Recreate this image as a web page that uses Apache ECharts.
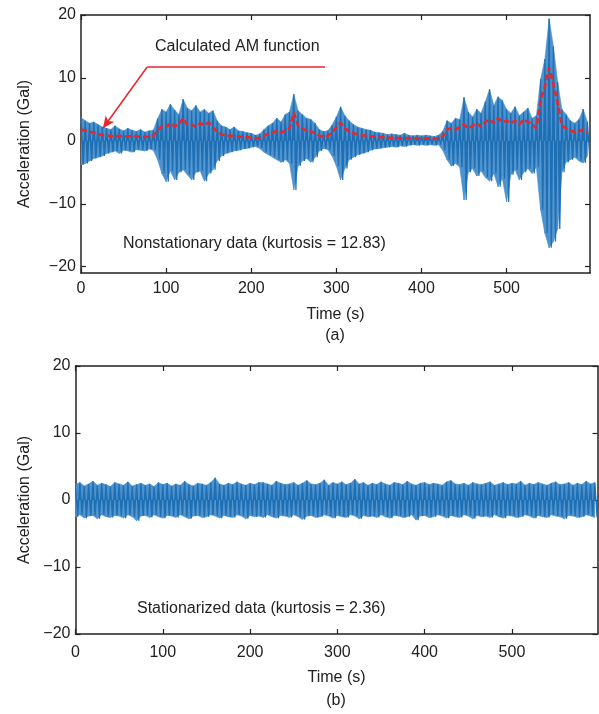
<!DOCTYPE html>
<html>
<head>
<meta charset="utf-8">
<script src="https://cdn.jsdelivr.net/npm/echarts@6/dist/echarts.min.js"></script>
<style>
  html, body { margin: 0; padding: 0; background: #fff; }
  #chart { width: 599px; height: 714px; }
</style>
</head>
<body>
<div id="chart"></div>
<script>
// sample times (s), one every 5 s
const times = [];
for (let i = 0; i < 120; i++) times.push(i * 5);

// (a) nonstationary record: upper / lower peaks per 5 s window
const upperA = [
  3.7, 3.2, 2.8, 3.0, 2.6, 2.2, 2.0, 1.8, 2.4, 1.9,
  1.6, 2.0, 1.7, 1.5, 1.8, 1.4, 1.6, 1.7, 3.5, 5.0,
  4.6, 5.8, 4.9, 4.2, 6.6, 5.2, 4.8, 5.6, 4.6, 5.0,
  4.4, 4.8, 3.2, 2.4, 2.2, 1.8, 2.2, 1.6, 1.5, 1.3,
  1.2, 0.9, 1.1, 1.8, 2.4, 2.8, 3.6, 3.0, 4.2, 4.6,
  7.4, 4.8, 4.2, 3.6, 3.4, 2.8, 1.8, 1.5, 1.6, 2.5,
  3.8, 5.4, 4.0, 3.2, 2.6, 2.2, 2.0, 1.8, 1.7, 1.4,
  1.3, 1.2, 1.0, 1.1, 1.0, 0.9, 1.2, 0.9, 0.8, 0.9,
  0.8, 0.9, 0.8, 0.7, 0.9, 1.5, 3.2, 2.8, 3.6, 3.4,
  6.9, 4.6, 3.8, 5.0, 4.4, 6.2, 8.2, 5.6, 7.0, 6.4,
  5.0, 4.4, 5.4, 4.0, 4.6, 5.2, 3.6, 4.0, 9.8, 13.0,
  19.4, 15.0, 9.3, 5.0, 4.2, 3.2, 2.8, 3.4, 5.0, 3.0
];
const lowerA = [
  -3.8, -3.6, -3.2, -2.8, -2.6, -2.4, -2.0, -1.8, -1.6, -2.0,
  -1.5, -1.6, -1.8, -1.4, -1.5, -1.6, -1.3, -1.5, -3.0, -5.2,
  -6.5, -4.8, -6.2, -5.0, -4.6, -5.4, -6.2, -5.0, -4.8, -6.4,
  -5.2, -4.6, -3.2, -2.4, -2.0, -1.8, -1.6, -1.5, -1.3, -1.2,
  -1.0, -0.9, -1.2, -1.8, -2.2, -2.6, -3.0, -3.4, -3.0, -3.6,
  -7.8, -4.0, -3.2, -2.8, -3.4, -2.6, -1.6, -1.2, -1.4, -2.4,
  -4.0, -6.2, -4.4, -3.0, -2.6, -2.2, -2.0, -1.8, -1.5, -1.3,
  -1.2, -1.1, -1.0, -0.9, -1.0, -0.8, -0.9, -0.7, -0.6, -0.7,
  -0.6, -0.7, -0.6, -0.7, -0.6, -1.5, -3.0, -4.0, -3.6, -4.2,
  -9.4, -5.0, -4.4, -5.6, -4.8, -5.8, -6.4, -5.2, -7.3, -6.0,
  -9.7, -5.4, -4.6, -6.2, -5.0, -4.4, -5.2, -4.2, -11.0, -14.7,
  -17.0, -16.0, -14.0, -5.0, -3.4, -3.0, -2.6, -3.2, -3.5, -2.4
];
// calculated AM function
const amA = [
  1.8, 1.6, 1.4, 1.3, 1.1, 0.9, 0.8, 0.8, 0.7, 0.8,
  0.7, 0.7, 0.8, 0.7, 0.7, 0.6, 0.7, 0.8, 1.6, 2.4,
  2.2, 2.8, 2.3, 2.6, 3.6, 2.5, 2.6, 2.2, 2.8, 2.5,
  2.9, 2.2, 1.4, 1.0, 0.9, 0.8, 0.8, 0.7, 0.6, 0.6,
  0.5, 0.4, 0.5, 0.8, 1.1, 1.3, 1.6, 1.3, 1.6, 2.0,
  4.5, 2.4, 2.0, 1.6, 1.5, 1.3, 0.8, 0.6, 0.8, 1.3,
  2.2, 2.9, 2.0, 1.5, 1.2, 1.0, 0.9, 0.8, 0.7, 0.7,
  0.6, 0.6, 0.5, 0.5, 0.5, 0.4, 0.5, 0.4, 0.4, 0.4,
  0.4, 0.4, 0.4, 0.3, 0.4, 0.7, 1.8, 2.0, 1.8, 2.2,
  2.6, 2.0, 2.4, 2.8, 2.2, 3.0, 3.4, 2.8, 3.6, 3.0,
  3.2, 2.8, 3.2, 2.6, 3.4, 3.0, 2.6, 2.0, 6.5, 8.6,
  11.6, 9.0, 6.0, 2.4, 2.0, 1.6, 1.4, 1.5, 1.8, 1.4
];

// (b) stationarized record
const upperB = [
  2.3, 2.6, 2.1, 2.4, 2.8, 2.2, 2.5, 2.3, 2.0, 2.6,
  2.4, 2.2, 2.7, 2.1, 2.3, 2.5, 2.2, 2.4, 2.0, 2.6,
  2.3, 2.5, 2.1, 2.4, 2.2, 2.8, 2.3, 2.1, 2.5, 2.4,
  2.2, 2.6, 3.3, 2.4, 2.2, 2.5, 2.3, 2.7, 2.4, 2.2,
  2.5, 2.3, 2.6, 2.6, 2.4, 2.2, 2.8, 2.5, 2.3, 2.4,
  2.6, 2.2, 2.5, 2.9, 2.4, 2.3, 2.5, 3.0, 2.2, 2.6,
  2.4, 2.7, 2.3, 2.5, 3.1, 2.4, 2.6, 2.2, 2.5, 2.3,
  2.7, 2.4, 2.2, 2.6, 2.5, 2.3, 2.8, 2.4, 2.2, 2.5,
  2.6, 2.3, 2.5, 2.4, 2.2, 2.7, 2.9, 2.4, 2.3, 2.5,
  2.2, 2.6, 2.4, 2.3, 2.5, 2.7, 2.2, 2.4, 2.6, 2.3,
  2.5, 2.4, 2.8, 2.2, 2.5, 2.3, 2.6, 2.4, 2.2, 2.5,
  2.7, 2.3, 2.4, 2.6, 2.2, 2.5, 2.3, 2.8, 2.4, 2.6
];
const lowerB = [
  -2.5, -2.2, -2.7, -2.4, -2.3, -2.8, -2.2, -2.5, -2.6, -2.3,
  -2.4, -2.7, -2.2, -2.5, -3.1, -2.4, -2.3, -2.6, -2.2, -2.5,
  -2.7, -2.3, -2.4, -2.6, -2.2, -2.5, -2.8, -2.4, -2.3, -2.6,
  -2.5, -2.2, -2.4, -2.7, -2.3, -2.5, -2.6, -2.2, -2.4, -2.8,
  -2.3, -2.5, -2.4, -2.6, -2.2, -2.5, -2.7, -2.3, -2.4, -2.6,
  -2.2, -2.5, -2.9, -2.4, -2.3, -2.6, -2.5, -2.2, -2.4, -2.7,
  -2.3, -2.5, -2.6, -2.2, -2.4, -2.8, -2.3, -2.5, -2.4, -2.6,
  -2.2, -2.5, -2.7, -2.3, -2.4, -2.6, -2.5, -2.2, -3.0, -2.4,
  -2.3, -2.6, -2.5, -2.2, -2.4, -2.7, -2.3, -2.5, -2.6, -2.2,
  -2.4, -2.8, -2.3, -2.5, -2.4, -2.6, -2.2, -2.5, -2.7, -2.3,
  -2.4, -2.6, -2.5, -2.2, -2.4, -2.7, -2.3, -2.5, -2.6, -2.2,
  -2.4, -2.5, -2.8, -2.3, -2.4, -2.6, -2.5, -2.2, -2.4, -2.6
];

const xTicks = [0, 100, 200, 300, 400, 500];
const yTicks = [-20, -10, 0, 10, 20];

// leader of the "Calculated AM function" label (data coords)
const leaderStart = [286.7, 11.7];
const leaderBend = [77.5, 11.7];
const leaderTip = [25.8, 2.0];

const FONT = '"Liberation Sans", Arial, sans-serif';
const INK = '#222';
const BLUE = '#1f6fb4';
const PALE = '#4d92cd';
const RED = '#e8262b';
const minus = v => String(v).replace('-', '\u2212');

// one slab of the signal envelope per pair of neighbouring samples
function slabs(up, lo) {
  const rows = [];
  for (let i = 0; i < times.length - 1; i++) {
    rows.push([times[i], up[i], lo[i], times[i + 1], up[i + 1], lo[i + 1]]);
  }
  return rows;
}

function renderSlab(params, api) {
  const p = [
    api.coord([api.value(0), api.value(1)]),
    api.coord([api.value(3), api.value(4)]),
    api.coord([api.value(3), api.value(5)]),
    api.coord([api.value(0), api.value(2)])
  ];
  return {
    type: 'polygon',
    shape: { points: p },
    style: { fill: PALE, stroke: PALE, lineWidth: 0.6 }
  };
}

// peaks alternate up/down, half a window apart
function trace(up, lo) {
  const pts = [];
  for (let i = 0; i < times.length; i++) {
    pts.push([times[i], up[i]]);
    pts.push([times[i] + 2.5, lo[i]]);
  }
  return pts;
}

function signalSeries(xi, yi, up, lo) {
  return [{
    type: 'custom', xAxisIndex: xi, yAxisIndex: yi,
    renderItem: renderSlab,
    data: slabs(up, lo),
    encode: { x: [0, 3], y: [1, 2, 4, 5] },
    clip: true, silent: true
  }, {
    type: 'line', xAxisIndex: xi, yAxisIndex: yi,
    data: trace(up, lo),
    symbol: 'none', silent: true,
    lineStyle: { color: BLUE, width: 1.2 },
    areaStyle: { color: BLUE, opacity: 1, origin: 0 }
  }];
}

function xAxes(grid, labelMargin, nameGap) {
  return [{
    type: 'value', gridIndex: grid, min: 0, max: 598,
    name: 'Time (s)', nameLocation: 'middle', nameGap: nameGap,
    nameTextStyle: { fontFamily: FONT, fontSize: 16, color: INK },
    axisLine: { onZero: false, lineStyle: { color: INK, width: 1.5 } },
    axisTick: { inside: true, length: 5, customValues: xTicks, lineStyle: { color: INK, width: 1.2 } },
    axisLabel: { margin: labelMargin, customValues: xTicks, fontFamily: FONT, fontSize: 16, color: INK },
    splitLine: { show: false }
  }, {
    type: 'value', gridIndex: grid, position: 'top', min: 0, max: 598,
    axisLine: { onZero: false, lineStyle: { color: INK, width: 1.5 } },
    axisTick: { inside: true, length: 5, customValues: xTicks, lineStyle: { color: INK, width: 1.2 } },
    axisLabel: { show: false },
    splitLine: { show: false }
  }];
}

function yAxes(grid, min, max, nameGap) {
  return [{
    type: 'value', gridIndex: grid, min: min, max: max,
    name: 'Acceleration (Gal)', nameLocation: 'middle', nameGap: nameGap,
    nameTextStyle: { fontFamily: FONT, fontSize: 16, color: INK },
    axisLine: { onZero: false, lineStyle: { color: INK, width: 1.5 } },
    axisTick: { inside: true, length: 5, customValues: yTicks, lineStyle: { color: INK, width: 1.2 } },
    axisLabel: { margin: 5, customValues: yTicks, fontFamily: FONT, fontSize: 16, color: INK, formatter: minus },
    splitLine: { show: false }
  }, {
    type: 'value', gridIndex: grid, position: 'right', min: min, max: max,
    axisLine: { onZero: false, lineStyle: { color: INK, width: 1.5 } },
    axisTick: { inside: true, length: 5, customValues: yTicks, lineStyle: { color: INK, width: 1.2 } },
    axisLabel: { show: false },
    splitLine: { show: false }
  }];
}

const chart = echarts.init(document.getElementById('chart'));

const textStyle = { fontFamily: FONT, fontSize: 16, fill: INK, textVerticalAlign: 'middle' };

chart.setOption({
  animation: false,
  backgroundColor: '#fff',
  grid: [
    { left: 81, right: 9, top: 15, height: 258, outerBoundsMode: 'none' },
    { left: 75.5, right: 1.5, top: 366, height: 268, outerBoundsMode: 'none' }
  ],
  xAxis: [].concat(xAxes(0, 8, 34), xAxes(1, 11, 36)),
  yAxis: [].concat(yAxes(0, -21, 20, 48), yAxes(1, -20, 20, 42)),
  series: [].concat(
    signalSeries(0, 0, upperA, lowerA),
    [{
      type: 'line', xAxisIndex: 0, yAxisIndex: 0,
      data: times.map((t, i) => [t, amA[i]]),
      symbol: 'none', silent: true,
      lineStyle: { color: RED, width: 2.6, type: [6, 3] },
      markLine: {
        silent: true,
        symbol: ['none', 'arrow'],
        symbolSize: [8, 12],
        label: { show: false },
        lineStyle: { color: RED, width: 1.5, type: 'solid' },
        data: [
          [{ coord: leaderStart, symbol: 'none' }, { coord: leaderBend, symbol: 'none' }],
          [{ coord: leaderBend, symbol: 'none' }, { coord: leaderTip, symbol: 'arrow' }]
        ]
      }
    }],
    signalSeries(2, 2, upperB, lowerB)
  ),
  graphic: [
    { type: 'text', left: 155, top: 39, style: Object.assign({ text: 'Calculated AM function' }, textStyle) },
    { type: 'text', left: 123, top: 236, style: Object.assign({ text: 'Nonstationary data (kurtosis = 12.83)' }, textStyle) },
    { type: 'text', left: 137, top: 601, style: Object.assign({ text: 'Stationarized data (kurtosis = 2.36)' }, textStyle) },
    { type: 'text', x: 335, y: 336, style: Object.assign({ text: '(a)', textAlign: 'center' }, textStyle) },
    { type: 'text', x: 336, y: 701, style: Object.assign({ text: '(b)', textAlign: 'center' }, textStyle) }
  ]
});

window.addEventListener('resize', function () {
  chart.resize();
});
</script>
</body>
</html>
